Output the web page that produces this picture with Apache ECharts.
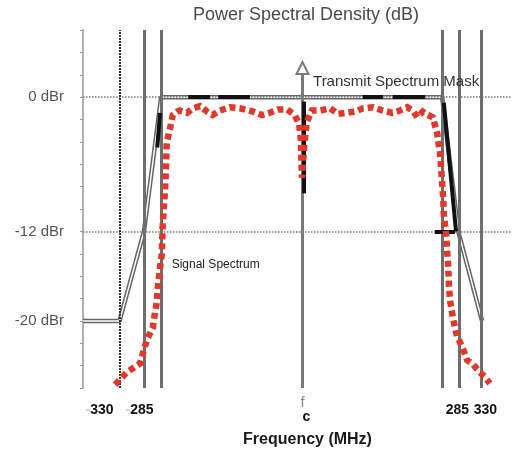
<!DOCTYPE html>
<html>
<head>
<meta charset="utf-8">
<script src="https://cdn.jsdelivr.net/npm/echarts@6/dist/echarts.min.js"></script>
<style>html,body{margin:0;padding:0;background:#fff;}#c{width:512px;height:456px;}</style>
</head>
<body>
<div id="c"></div>
<script>
// ---- data ----
const xTickValues = [-330, -285, 0, 285, 330];
const xTickLabels = ['-330', '-285', 'f_c', '285', '330'];
const yTickValues = [0, -12, -20];
const yTickLabels = ['0 dBr', '-12 dBr', '-20 dBr'];
const markerFreqs = [-330, -286, -255, 252, 282, 322];
const refLevels = [0, -12];
const maskLine = [[-396, -20], [-330, -20], [-286, -12], [-255, 0], [252, 0], [281, -12], [324, -20]];
const signalSpectrum = [
  [-338,-25.7],[-317,-24.6],[-293,-23.8],[-288,-22.9],[-284,-22.2],[-279,-21.5],[-270,-20.6],[-266,-19.2],
  [-263,-18.4],[-261,-17.0],[-257,-15.2],[-254,-14.1],[-252,-11.3],[-248,-8.3],[-246,-5.9],[-245,-4.1],
  [-239,-2.8],[-234,-1.6],[-226,-1.3],[-221,-1.2],[-208,-1.4],[-198,-1.0],[-185,-0.8],[-172,-1.3],
  [-162,-1.6],[-149,-1.2],[-131,-0.9],[-113,-1.0],[-89,-1.3],[-73,-1.6],[-59,-1.4],[-44,-1.1],
  [-28,-1.1],[-14,-1.6],[-6,-2.4],[-3,-3.8],[-1,-7.2],[1,-7.2],[4,-3.8],[8,-2.2],
  [17,-1.2],[32,-1.2],[50,-1.0],[64,-1.5],[80,-1.4],[95,-1.3],[109,-1.0],[127,-0.9],
  [145,-1.2],[162,-1.4],[176,-1.2],[189,-0.9],[199,-1.2],[207,-1.8],[217,-1.3],[226,-1.6],
  [235,-1.8],[239,-2.5],[243,-3.2],[245,-4.0],[248,-4.9],[250,-6.3],[252,-7.6],[254,-9.2],
  [255,-10.5],[259,-12.2],[261,-13.7],[263,-15.2],[264,-16.6],[266,-18.1],[272,-19.9],[279,-21.4],
  [288,-22.3],[297,-23.5],[308,-23.9],[320,-24.6],[329,-25.0],[338,-25.6]
];
const accentSegments = [
  [[-206, 0], [-167, 0]], [[-152, 0], [-95, 0]], [[109, 0], [145, 0]], [[163, 0], [221, 0]],
  [[1.5, -0.4], [1.5, -8.6]], [[-257, -1.4], [-262, -4.5]], [[255, -0.5], [277, -12]], [[239, -12], [275, -12]]
];
const centerArrow = [[0, -26], [0, 2.6]];
const annotations = [
  { name: 'Transmit Spectrum Mask', coord: [19, 1.35] },
  { name: 'Signal Spectrum', coord: [-236, -15] }
];

// ---- chart ----
const chart = echarts.init(document.getElementById('c'), null, { renderer: 'canvas' });
const font = 'Liberation Sans, Arial, sans-serif';
const grayLine = { color: '#6e6e6e', width: 3, type: 'solid' };
const option = {
  animation: false,
  textStyle: { fontFamily: font },
  title: {
    text: 'Power Spectral Density (dB)', left: 193, top: 6, padding: 0,
    textStyle: { fontSize: 18, fontWeight: 'normal', color: '#4a4a4a', fontFamily: font }
  },
  grid: { left: 83, top: 30, width: 429, height: 358 },
  xAxis: {
    type: 'value', min: -396, max: 378,
    axisLine: { show: false, onZero: false }, axisTick: { show: false }, splitLine: { show: false },
    axisLabel: {
      customValues: xTickValues, margin: 22, verticalAlign: 'middle',
      formatter: function (v) {
        const i = xTickValues.indexOf(v);
        const t = xTickLabels[i];
        if (t === 'f_c') return '{f|f}\n{c|c}';
        if (t[0] === '-') return '{m|-}{n' + i + '|' + t.slice(1) + '}';
        return '{n' + i + '|' + t + '}';
      },
      rich: {
        m: { color: '#cfcfcf', fontSize: 14, fontWeight: 'bold' },
        n0: { color: '#111', fontSize: 14, fontWeight: 'bold', padding: [0, 40, 0, 0] },
        n1: { color: '#111', fontSize: 14, fontWeight: 'bold', padding: [0, 10, 0, 0] },
        n3: { color: '#111', fontSize: 14, fontWeight: 'bold', padding: [0, 6, 0, 0] },
        n4: { color: '#111', fontSize: 14, fontWeight: 'bold' },
        f: { color: '#8a8a8a', fontSize: 15, lineHeight: 14 },
        c: { color: '#111', fontSize: 14, fontWeight: 'bold', lineHeight: 14, padding: [0, 0, 0, 8] }
      }
    },
    name: 'Frequency (MHz)', nameLocation: 'middle', nameGap: 44,
    nameTextStyle: { fontSize: 16, fontWeight: 'bold', color: '#1a1a1a', padding: [0, 0, 0, 20], fontFamily: font }
  },
  yAxis: {
    type: 'value', min: -26, max: 6, interval: 2,
    axisLine: { show: true, onZero: false, lineStyle: { color: '#b0b0b0', width: 2 } },
    axisTick: { show: true, length: 3, lineStyle: { color: '#999' } },
    splitLine: { show: false },
    axisLabel: {
      customValues: yTickValues, margin: 19, fontSize: 15, color: '#555',
      formatter: function (v) { return yTickLabels[yTickValues.indexOf(v)]; }
    }
  },
  series: [
    {
      type: 'line', data: [], z: 1, silent: true,
      markLine: {
        silent: true, symbol: 'none', label: { show: false }, animation: false,
        data: refLevels.map(v => ({ yAxis: v, lineStyle: { type: 'dotted', color: '#777', width: 1.5 } }))
          .concat(markerFreqs.map((v, i) => ({
            xAxis: v,
            lineStyle: i === 0 ? { type: [2, 1], color: '#333', width: 2 } : grayLine
          })))
      }
    },
    {
      type: 'line', data: [], z: 2, silent: true,
      markLine: {
        silent: true, symbol: ['none', 'emptyTriangle'], symbolSize: 12, label: { show: false }, animation: false,
        lineStyle: { color: '#7a7a7a', width: 3, type: 'solid' },
        data: [[{ coord: centerArrow[0] }, { coord: centerArrow[1] }]]
      }
    },
    {
      type: 'line', data: maskLine, z: 3, symbol: 'none', silent: true,
      lineStyle: { color: '#666', width: 4.5 }
    },
    {
      type: 'line', data: maskLine, z: 3, symbol: 'none', silent: true,
      lineStyle: { color: '#fff', width: 1.5 },
      markPoint: {
        symbol: 'circle', symbolSize: 0, silent: true,
        label: { show: true, position: 'right', distance: 0, formatter: '{b}', color: '#333', fontSize: 15 },
        data: [annotations[0]]
      }
    },
    {
      type: 'line', data: [], z: 4, silent: true,
      markLine: {
        silent: true, symbol: 'none', label: { show: false }, animation: false,
        lineStyle: { color: '#111', width: 4, type: 'solid' },
        data: accentSegments.map(s => [{ coord: s[0] }, { coord: s[1] }])
      }
    },
    {
      type: 'line', data: signalSpectrum, z: 5, symbol: 'none', silent: true,
      lineStyle: { color: '#e0392b', width: 6.5, type: [6, 4], cap: 'butt', join: 'miter' },
      markPoint: {
        symbol: 'circle', symbolSize: 0, silent: true,
        label: { show: true, position: 'right', distance: 0, formatter: '{b}', color: '#222', fontSize: 12 },
        data: [annotations[1]]
      }
    }
  ]
};
chart.setOption(option);
</script>
</body>
</html>
